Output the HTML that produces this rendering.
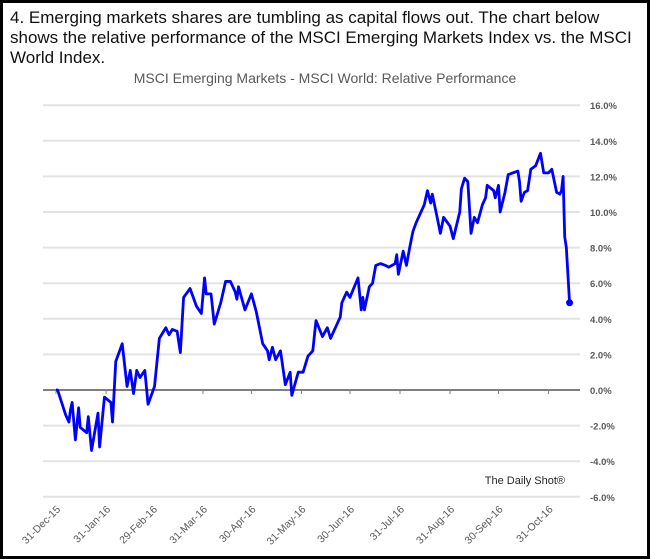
<!DOCTYPE html>
<html><head><meta charset="utf-8"><style>
body{margin:0;background:#fff}
#wrap{position:relative;width:644px;height:553px;border:3px solid #000;overflow:hidden;background:#fff}
#hdr{position:absolute;left:7px;top:5px;width:635px;font:17px/20px "Liberation Sans",Arial,sans-serif;color:#111}
svg{position:absolute;left:-3px;top:-3px}
</style></head><body>
<div id="wrap">
<div id="hdr">4. Emerging markets shares are tumbling as capital flows out. The chart below shows the relative performance of the MSCI Emerging Markets Index vs. the MSCI World Index.</div>
<svg id="chart" width="650" height="559"></svg>
</div>
<script>
const days=[0,1,6,8,9,10,12,14,15,19,20,22,26,27,30,34,35,37,41,44,46,48,50,52,55,57,61,64,68,70,72,75,77,79,83,87,90,92,93,96,98,102,105,108,111,112,113,117,121,124,126,128,131,132,134,136,139,142,145,146,150,153,156,159,161,165,168,170,173,176,177,180,182,187,189,190,191,194,196,198,201,204,206,210,211,212,215,217,219,221,223,225,228,230,232,233,236,238,240,244,246,250,251,253,255,257,259,261,264,266,267,271,272,274,275,278,280,283,286,287,288,290,292,294,297,300,302,305,307,310,312,313,314,315,316,318];
const values=[0,0,-1.4,-1.8,-1.1,-0.7,-2.8,-1.0,-2.1,-2.4,-1.5,-3.4,-1.3,-3.2,-0.4,-0.7,-1.8,1.6,2.6,0.2,1.1,-0.2,1.1,0.7,1.1,-0.8,0.2,2.9,3.5,3.1,3.4,3.3,2.1,5.2,5.7,4.7,4.3,6.3,5.4,5.4,3.7,4.9,6.1,6.1,5.5,5.1,5.8,4.5,5.4,4.4,3.5,2.6,2.2,1.7,2.4,1.7,2.2,0.3,1.0,-0.3,1.0,1.0,1.9,2.2,3.9,3.0,3.5,2.9,3.5,4.1,4.9,5.5,5.2,6.3,4.5,5.2,4.5,5.8,6.0,7.0,7.1,7.0,6.9,7.1,7.6,6.5,7.8,7.0,8.0,8.9,9.4,9.8,10.4,11.2,10.5,11.0,9.7,8.8,9.7,9.2,8.5,10.0,11.3,11.9,11.7,8.8,9.7,9.4,10.4,10.8,11.5,11.2,10.8,11.5,10.0,11.1,12.1,12.2,12.3,11.7,10.6,11.1,11.2,12.4,12.6,13.3,12.2,12.2,12.4,11.1,11.0,11.2,12.0,8.6,8.0,4.9];
const yTicks=[16,14,12,10,8,6,4,2,0,-2,-4,-6];
const xLabels=["31-Dec-15","31-Jan-16","29-Feb-16","31-Mar-16","30-Apr-16","31-May-16","30-Jun-16","31-Jul-16","31-Aug-16","30-Sep-16","31-Oct-16"];
const xLabelDays=[0,31,60,91,121,152,182,213,244,274,305];
const NS="http://www.w3.org/2000/svg";
const svg=document.getElementById('chart');
const X=d=>56+d*1.615, Y=v=>390-v*17.8;
function mk(t,a,txt){const e=document.createElementNS(NS,t);for(const k in a)e.setAttribute(k,a[k]);if(txt!=null)e.textContent=txt;svg.appendChild(e);return e;}
let e=mk('text',{x:325,y:83,'text-anchor':'middle','font-family':'Liberation Sans, sans-serif','font-size':'14',fill:'#595959'},'MSCI Emerging Markets - MSCI World: Relative Performance');


yTicks.forEach(v=>{
 const g=mk('line',{x1:43,x2:580,y1:Y(v),y2:Y(v),stroke:v===0?'#7f7f7f':'#e3e3e3','stroke-width':v===0?2:2});
 
 
 const t=mk('text',{x:590,y:Y(v)+4,'font-family':'Liberation Sans, sans-serif','font-size':'9.5','font-weight':'bold',fill:'#595959'},v.toFixed(1)+'%');
 
 
});
xLabelDays.forEach((d,i)=>{
 const x=X(d);
 const tk=mk('line',{x1:x,x2:x,y1:390,y2:394,stroke:'#7f7f7f','stroke-width':1});
 
 
 const t=mk('text',{x:x,y:512,'text-anchor':'end','font-family':'Liberation Sans, sans-serif','font-size':'10.5',fill:'#595959',transform:`rotate(-45 ${x} 505)`},xLabels[i]);
 
 
});
const p=mk('polyline',{points:days.map((d,i)=>X(d)+','+Y(values[i])).join(' '),fill:'none',stroke:'#0000ff','stroke-width':2.8,'stroke-linejoin':'round'});


const n=days.length-1;
const c=mk('circle',{cx:X(days[n]),cy:Y(values[n]),r:3.5,fill:'#0000ff'});


const s=mk('text',{x:565,y:484,'text-anchor':'end','font-family':'Liberation Sans, sans-serif','font-size':'11',fill:'#262626'},'The Daily Shot®');


</script>
</body></html>
